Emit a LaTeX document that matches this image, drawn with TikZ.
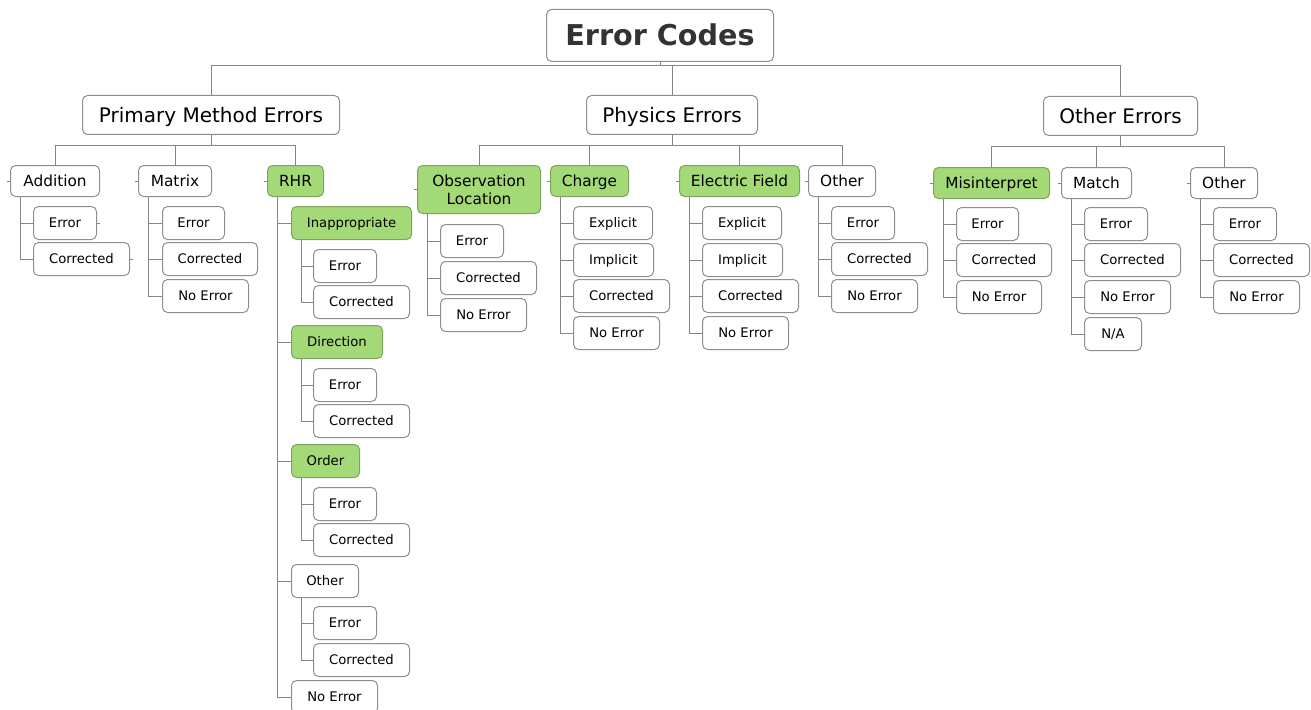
\documentclass[tikz,border=0pt]{standalone}
\usepackage{fontspec}
\setmainfont{DejaVu Sans}
\definecolor{boxline}{HTML}{8E8E8E}
\definecolor{wire}{HTML}{858585}
\definecolor{leaf}{HTML}{A3D977}
\definecolor{leafline}{HTML}{7FA35F}
\definecolor{titletext}{HTML}{333333}
\tikzset{
  bw/.style={minimum width=#1*0.75pt},
  bh/.style={minimum height=#1*0.75pt},
  base/.style={draw=boxline, line width=0.75pt, rounded corners=3.8pt, fill=white,
    anchor=north west, inner sep=0pt, align=center, text=black, text depth=0pt},
  rootbox/.style={base, bh=52, text height=15.7pt, font=\fontsize{21.5}{24}\selectfont\bfseries, text=titletext},
  topbox/.style={base, bh=39, text height=10.9pt, font=\fontsize{15}{18}\selectfont},
  midbox/.style={base, bh=31, text height=8.4pt, font=\fontsize{11.5}{13.5}\selectfont},
  leafbox/.style={base, bh=33, text height=7.2pt, font=\fontsize{9.9}{12}\selectfont},
  twoline/.style={text height=, text depth=},
  green/.style={fill=leaf, draw=leafline},
  conn/.style={draw=wire, line width=0.75pt},
}
\begin{document}
\begin{tikzpicture}[x=0.75pt,y=-0.75pt]
\useasboundingbox (0,0) rectangle (1311,710);
\clip (0,0) rectangle (1311,710);

% bus levels
\coordinate (b0) at (0,66);
\coordinate (b1) at (0,145);
\coordinate (b2) at (0,146);

% root and main branches
\node[rootbox, bw=227] (root) at (546,9) {Error Codes};
\node[topbox, bw=257] (pme) at (82,95) {Primary Method Errors};
\node[topbox, bw=171] (phy) at (586,95) {Physics Errors};
\node[topbox, bw=154] (oth) at (1043,96) {Other Errors};

% second level
\node[midbox, bw=89] (add) at (10,165) {Addition};
\node[midbox, bw=73] (mat) at (138,165) {Matrix};
\node[midbox, bw=56, green] (rhr) at (267,165) {RHR};
\node[midbox, twoline, bw=123, bh=48, green] (obs) at (417,165) {Observation\\Location};
\node[midbox, bw=78, green] (chg) at (550,165) {Charge};
\node[midbox, bw=120, green] (ef) at (679,165) {Electric Field};
\node[midbox, bw=67] (pot) at (808,165) {Other};
\node[midbox, bw=116, green] (mis) at (933,167) {Misinterpret};
\node[midbox, bw=70] (mch) at (1061,167) {Match};
\node[midbox, bw=67] (oot) at (1190,167) {Other};

% Addition
\node[leafbox, bw=63] (adderr) at (33,206) {Error};
\node[leafbox, bw=96] (addcor) at (33,242) {Corrected};
% Matrix
\node[leafbox, bw=62] (materr) at (162,206) {Error};
\node[leafbox, bw=95] (matcor) at (162,242) {Corrected};
\node[leafbox, bw=86] (matno) at (162,279) {No Error};
% RHR
\node[leafbox, bw=120, green] (inap) at (291,206) {Inappropriate};
\node[leafbox, bw=63] (inaperr) at (313,249) {Error};
\node[leafbox, bw=96] (inapcor) at (313,285) {Corrected};
\node[leafbox, bw=91, green] (dir) at (291,325) {Direction};
\node[leafbox, bw=63] (direrr) at (313,368) {Error};
\node[leafbox, bw=96] (dircor) at (313,404) {Corrected};
\node[leafbox, bw=68, green] (ord) at (291,444) {Order};
\node[leafbox, bw=63] (orderr) at (313,487) {Error};
\node[leafbox, bw=96] (ordcor) at (313,523) {Corrected};
\node[leafbox, bw=67] (roth) at (291,564) {Other};
\node[leafbox, bw=63] (rotherr) at (313,606) {Error};
\node[leafbox, bw=96] (rothcor) at (313,643) {Corrected};
\node[leafbox, bw=86] (rno) at (291,680) {No Error};
% Observation Location
\node[leafbox, bw=63] (obserr) at (440,224) {Error};
\node[leafbox, bw=96] (obscor) at (440,261) {Corrected};
\node[leafbox, bw=86] (obsno) at (440,298) {No Error};
% Charge
\node[leafbox, bw=79] (chex) at (573,206) {Explicit};
\node[leafbox, bw=80] (chim) at (573,243) {Implicit};
\node[leafbox, bw=96] (chcor) at (573,279) {Corrected};
\node[leafbox, bw=86] (chno) at (573,316) {No Error};
% Electric Field
\node[leafbox, bw=79] (efex) at (702,206) {Explicit};
\node[leafbox, bw=80] (efim) at (702,243) {Implicit};
\node[leafbox, bw=96] (efcor) at (702,279) {Corrected};
\node[leafbox, bw=86] (efno) at (702,316) {No Error};
% Other (physics)
\node[leafbox, bw=63] (poerr) at (831,206) {Error};
\node[leafbox, bw=96] (pocor) at (831,242) {Corrected};
\node[leafbox, bw=86] (pono) at (831,279) {No Error};
% Misinterpret
\node[leafbox, bw=62] (miserr) at (956,207) {Error};
\node[leafbox, bw=95] (miscor) at (956,243) {Corrected};
\node[leafbox, bw=85] (misno) at (956,280) {No Error};
% Match
\node[leafbox, bw=63] (mcherr) at (1084,207) {Error};
\node[leafbox, bw=96] (mchcor) at (1084,243) {Corrected};
\node[leafbox, bw=86] (mchno) at (1084,280) {No Error};
\node[leafbox, bw=57] (mchna) at (1084,317) {N/A};
% Other (other errors)
\node[leafbox, bw=63] (ooerr) at (1213,207) {Error};
\node[leafbox, bw=96] (oocor) at (1213,243) {Corrected};
\node[leafbox, bw=86] (oono) at (1213,280) {No Error};

% root to main branches
\foreach \c in {pme,phy,oth}
  \draw[conn] (root.south) -- (root.south |- b0) -| (\c.north);
% main branches to second level
\foreach \c in {add,mat,rhr}
  \draw[conn] (pme.south) -- (pme.south |- b1) -| (\c.north);
\foreach \c in {obs,chg,ef,pot}
  \draw[conn] (phy.south) -- (phy.south |- b1) -| (\c.north);
\foreach \c in {mis,mch,oot}
  \draw[conn] (oth.south) -- (oth.south |- b2) -| (\c.north);

% trunks to the children
\foreach \p/\cs in {add/{adderr,addcor}, mat/{materr,matcor,matno},
    rhr/{inap,dir,ord,roth,rno}, inap/{inaperr,inapcor}, dir/{direrr,dircor},
    ord/{orderr,ordcor}, roth/{rotherr,rothcor},
    obs/{obserr,obscor,obsno}, chg/{chex,chim,chcor,chno}, ef/{efex,efim,efcor,efno},
    pot/{poerr,pocor,pono}, mis/{miserr,miscor,misno}, mch/{mcherr,mchcor,mchno,mchna},
    oot/{ooerr,oocor,oono}}
  \foreach \c in \cs
    \draw[conn] ([xshift=7.5pt]\p.south west) |- (\c.west);

% short stubs at box sides
\foreach \c in {add,mat,rhr,obs,chg,ef,pot,mis,mch,oot}
  \draw[conn] (\c.west) -- ++(-2.2pt,0);
\foreach \c in {adderr,addcor}
  \draw[conn] (\c.east) -- ++(2.2pt,0);
\end{tikzpicture}
\end{document}
